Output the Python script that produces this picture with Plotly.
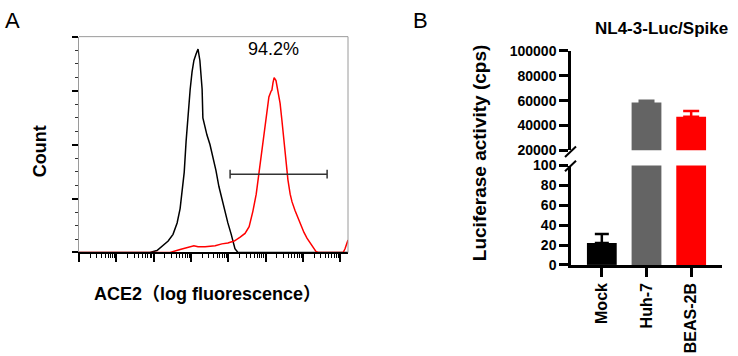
import plotly.graph_objects as go

# ---------------- Panel A data (flow histogram) ----------------
# x values are log10(fluorescence), y values are counts
isotype_log_fl = [0.0, 1.90, 2.09, 2.25, 2.39, 2.52, 2.63, 2.71, 2.76, 2.82, 2.87, 2.92, 2.98, 3.03,
                  3.08, 3.14, 3.19, 3.24, 3.30, 3.32, 3.38, 3.43, 3.51, 3.59, 3.67, 3.75, 3.83,
                  3.91, 3.99, 4.08, 4.13, 4.18, 4.26, 7.21]
isotype_count = [0, 0, 1.8, 6.2, 10.6, 16.8, 27.4, 40.7, 58.4, 74.3, 102.7, 129.2, 151.3, 167.3,
                 177.9, 184.1, 188.5, 177.9, 151.3, 124.8, 115.9, 108.8, 100.0, 89.4, 76.1, 61.1, 49.6,
                 38.1, 27.4, 16.8, 8.8, 3.5, 0, 0]

ace2_log_fl = [0.0, 2.44, 2.71, 2.98, 3.08, 3.19, 3.38, 3.65, 3.83, 3.99, 4.16, 4.32, 4.45, 4.56,
               4.66, 4.75, 4.83, 4.88, 4.93, 4.99, 5.04, 5.09, 5.15, 5.17, 5.20, 5.23, 5.28, 5.34,
               5.39, 5.44, 5.50, 5.55, 5.60, 5.66, 5.71, 5.79, 5.87, 5.95, 6.03, 6.11, 6.19, 6.27,
               6.35, 6.41, 7.08, 7.13, 7.21]
ace2_count = [0, 0, 2.7, 5.3, 6.2, 5.3, 5.3, 6.2, 8.0, 8.8, 10.6, 14.2, 17.7, 23.9,
              38.1, 54.0, 76.1, 89.4, 102.7, 120.4, 131.9, 144.2, 149.6, 150.4, 157.5, 162.0, 159.3, 148.7,
              138.1, 122.1, 102.7, 80.5, 67.3, 54.0, 46.9, 38.9, 31.9, 24.8, 18.6, 13.3, 8.8, 4.4,
              0.9, 0, 0, 3.5, 11.5]

gate_log_fl = [4.05, 6.65]
gate_count = 72.6
gate_label = "94.2%"

# ---------------- Panel B data (luciferase) ----------------
cell_lines = ["Mock", "Huh-7", "BEAS-2B"]
luc_mean = [22, 58500, 47000]
luc_sd = [9, 1500, 4700]
bar_colors = ["#000000", "#646464", "#ff0000"]

FONT = "Liberation Sans, Arial, Noto Sans CJK SC, sans-serif"
W, H = 738, 356


def px(x):
    return x / W


def py(y):
    return 1 - y / H


fig = go.Figure()

# Panel A traces
fig.add_trace(go.Scatter(x=[10 ** v for v in isotype_log_fl], y=isotype_count, mode="lines",
                         line=dict(color="black", width=1.5), xaxis="x", yaxis="y",
                         showlegend=False, hoverinfo="skip"))
fig.add_trace(go.Scatter(x=[10 ** v for v in ace2_log_fl], y=ace2_count, mode="lines",
                         line=dict(color="#ff0000", width=1.5), xaxis="x", yaxis="y",
                         showlegend=False, hoverinfo="skip"))
g0, g1 = 10 ** gate_log_fl[0], 10 ** gate_log_fl[1]
cap = 4
fig.add_trace(go.Scatter(x=[g0, g0, g0, g1, g1, g1],
                         y=[gate_count - cap, gate_count + cap, gate_count, gate_count,
                            gate_count + cap, gate_count - cap],
                         mode="lines", line=dict(color="#333333", width=1.5),
                         xaxis="x", yaxis="y", showlegend=False, hoverinfo="skip"))

# Panel B traces: lower segment (y4) and upper segment (y3)
for i, cat in enumerate(cell_lines):
    show_low_err = luc_mean[i] + luc_sd[i] <= 100
    fig.add_trace(go.Bar(
        x=[cat], y=[luc_mean[i]], marker=dict(color=bar_colors[i], line=dict(width=0)),
        width=0.667, xaxis="x2", yaxis="y4", showlegend=False,
        error_y=dict(type="data", symmetric=False, array=[luc_sd[i]], arrayminus=[0],
                     color=bar_colors[i], thickness=2.5, width=7, visible=show_low_err)))
    if luc_mean[i] > 100:
        fig.add_trace(go.Bar(
            x=[cat], y=[luc_mean[i]], marker=dict(color=bar_colors[i], line=dict(width=0)),
            width=0.667, xaxis="x2", yaxis="y3", showlegend=False,
            error_y=dict(type="data", symmetric=False, array=[luc_sd[i]], arrayminus=[0],
                         color=bar_colors[i], thickness=2.5, width=8)))

minor_vals = [k * 10 ** d for d in range(0, 7) for k in range(2, 10)]

fig.update_layout(
    width=W, height=H, autosize=False,
    margin=dict(l=0, r=0, t=0, b=0),
    paper_bgcolor="white", plot_bgcolor="white",
    barmode="overlay",
    font=dict(family=FONT, color="black"),
    xaxis=dict(domain=[px(79), px(348)], anchor="y", type="log", range=[0, 7.21],
               showgrid=False, zeroline=False, showline=True, linecolor="black", linewidth=1.5,
               ticks="outside", tickvals=[10 ** d for d in range(0, 8)], ticklen=8, tickwidth=1.5,
               tickcolor="black", showticklabels=False,
               minor=dict(tickvals=minor_vals, ticks="outside", ticklen=4, tickwidth=1,
                          tickcolor="black", showgrid=False)),
    yaxis=dict(domain=[py(256), py(30)], anchor="x", range=[0, 200],
               showgrid=False, zeroline=False, showline=True, linecolor="#9a9a9a", linewidth=1,
               ticks="outside", tickmode="linear", tick0=0, dtick=50, ticklen=6, tickwidth=1.5,
               tickcolor="black", showticklabels=False,
               minor=dict(ticks="outside", dtick=12.5, ticklen=3, tickwidth=1, tickcolor="#333333",
                          showgrid=False)),
    xaxis2=dict(domain=[px(571), px(722)], anchor="y4", type="category",
                range=[-0.69, 2.69], showgrid=False, zeroline=False, showline=True,
                linecolor="black", linewidth=2.5, ticks="outside", ticklen=9, tickwidth=2.5,
                tickcolor="black", tickangle=-90,
                tickfont=dict(family=FONT, size=16, color="black", weight="bold")),
    yaxis3=dict(domain=[py(149), py(45)], anchor="x2", range=[20000, 100000],
                showgrid=False, zeroline=False, showline=True, linecolor="black", linewidth=2.5,
                ticks="outside", tickmode="linear", tick0=20000, dtick=20000, ticklen=9,
                tickwidth=2.5, tickcolor="black", tickformat="d",
                tickfont=dict(family=FONT, size=14, color="black", weight="bold")),
    yaxis4=dict(domain=[py(269), py(165)], anchor="x2", range=[0, 100],
                showgrid=False, zeroline=False, showline=True, linecolor="black", linewidth=2.5,
                ticks="outside", tickmode="linear", tick0=0, dtick=20, ticklen=9,
                tickwidth=2.5, tickcolor="black", tickformat="d",
                tickfont=dict(family=FONT, size=14, color="black", weight="bold")),
)

# Panel A frame top/right (gray)
fig.add_shape(type="line", xref="paper", yref="paper", x0=px(79), x1=px(348), y0=py(30), y1=py(30),
              line=dict(color="#9a9a9a", width=1))
fig.add_shape(type="line", xref="paper", yref="paper", x0=px(348), x1=px(348), y0=py(30), y1=py(256),
              line=dict(color="#9a9a9a", width=1))

# Axis break marks on panel B
fig.add_shape(type="line", xref="paper", yref="paper", x0=px(565), x1=px(576), y0=py(156), y1=py(145),
              line=dict(color="black", width=2))
fig.add_shape(type="line", xref="paper", yref="paper", x0=px(565), x1=px(576), y0=py(171), y1=py(160),
              line=dict(color="black", width=2))

annots = [
    dict(text="A", x=px(12), y=py(13), font=dict(size=22)),
    dict(text="B", x=px(420), y=py(13), font=dict(size=22)),
    dict(text=gate_label, x=px(273), y=py(43), font=dict(size=18)),
    dict(text="Count", x=px(40), y=py(150), textangle=-90, font=dict(size=18, weight="bold")),
    dict(text="ACE2（log fluorescence）", x=px(207), y=py(299), font=dict(size=18, weight="bold")),
    dict(text="NL4-3-Luc/Spike", x=px(661), y=py(21), font=dict(size=17, weight="bold")),
    dict(text="Luciferase activity (cps)", x=px(479), y=py(152), textangle=-90,
         font=dict(size=19, weight="bold")),
]
for a in annots:
    f = dict(family=FONT, color="black")
    f.update(a.pop("font"))
    fig.add_annotation(xref="paper", yref="paper", showarrow=False, xanchor="center",
                       yanchor="middle", font=f, **a)

fig.write_html("out.html", config={"displayModeBar": False},
               post_script="document.body.style.margin='0';document.body.style.overflow='hidden';")
